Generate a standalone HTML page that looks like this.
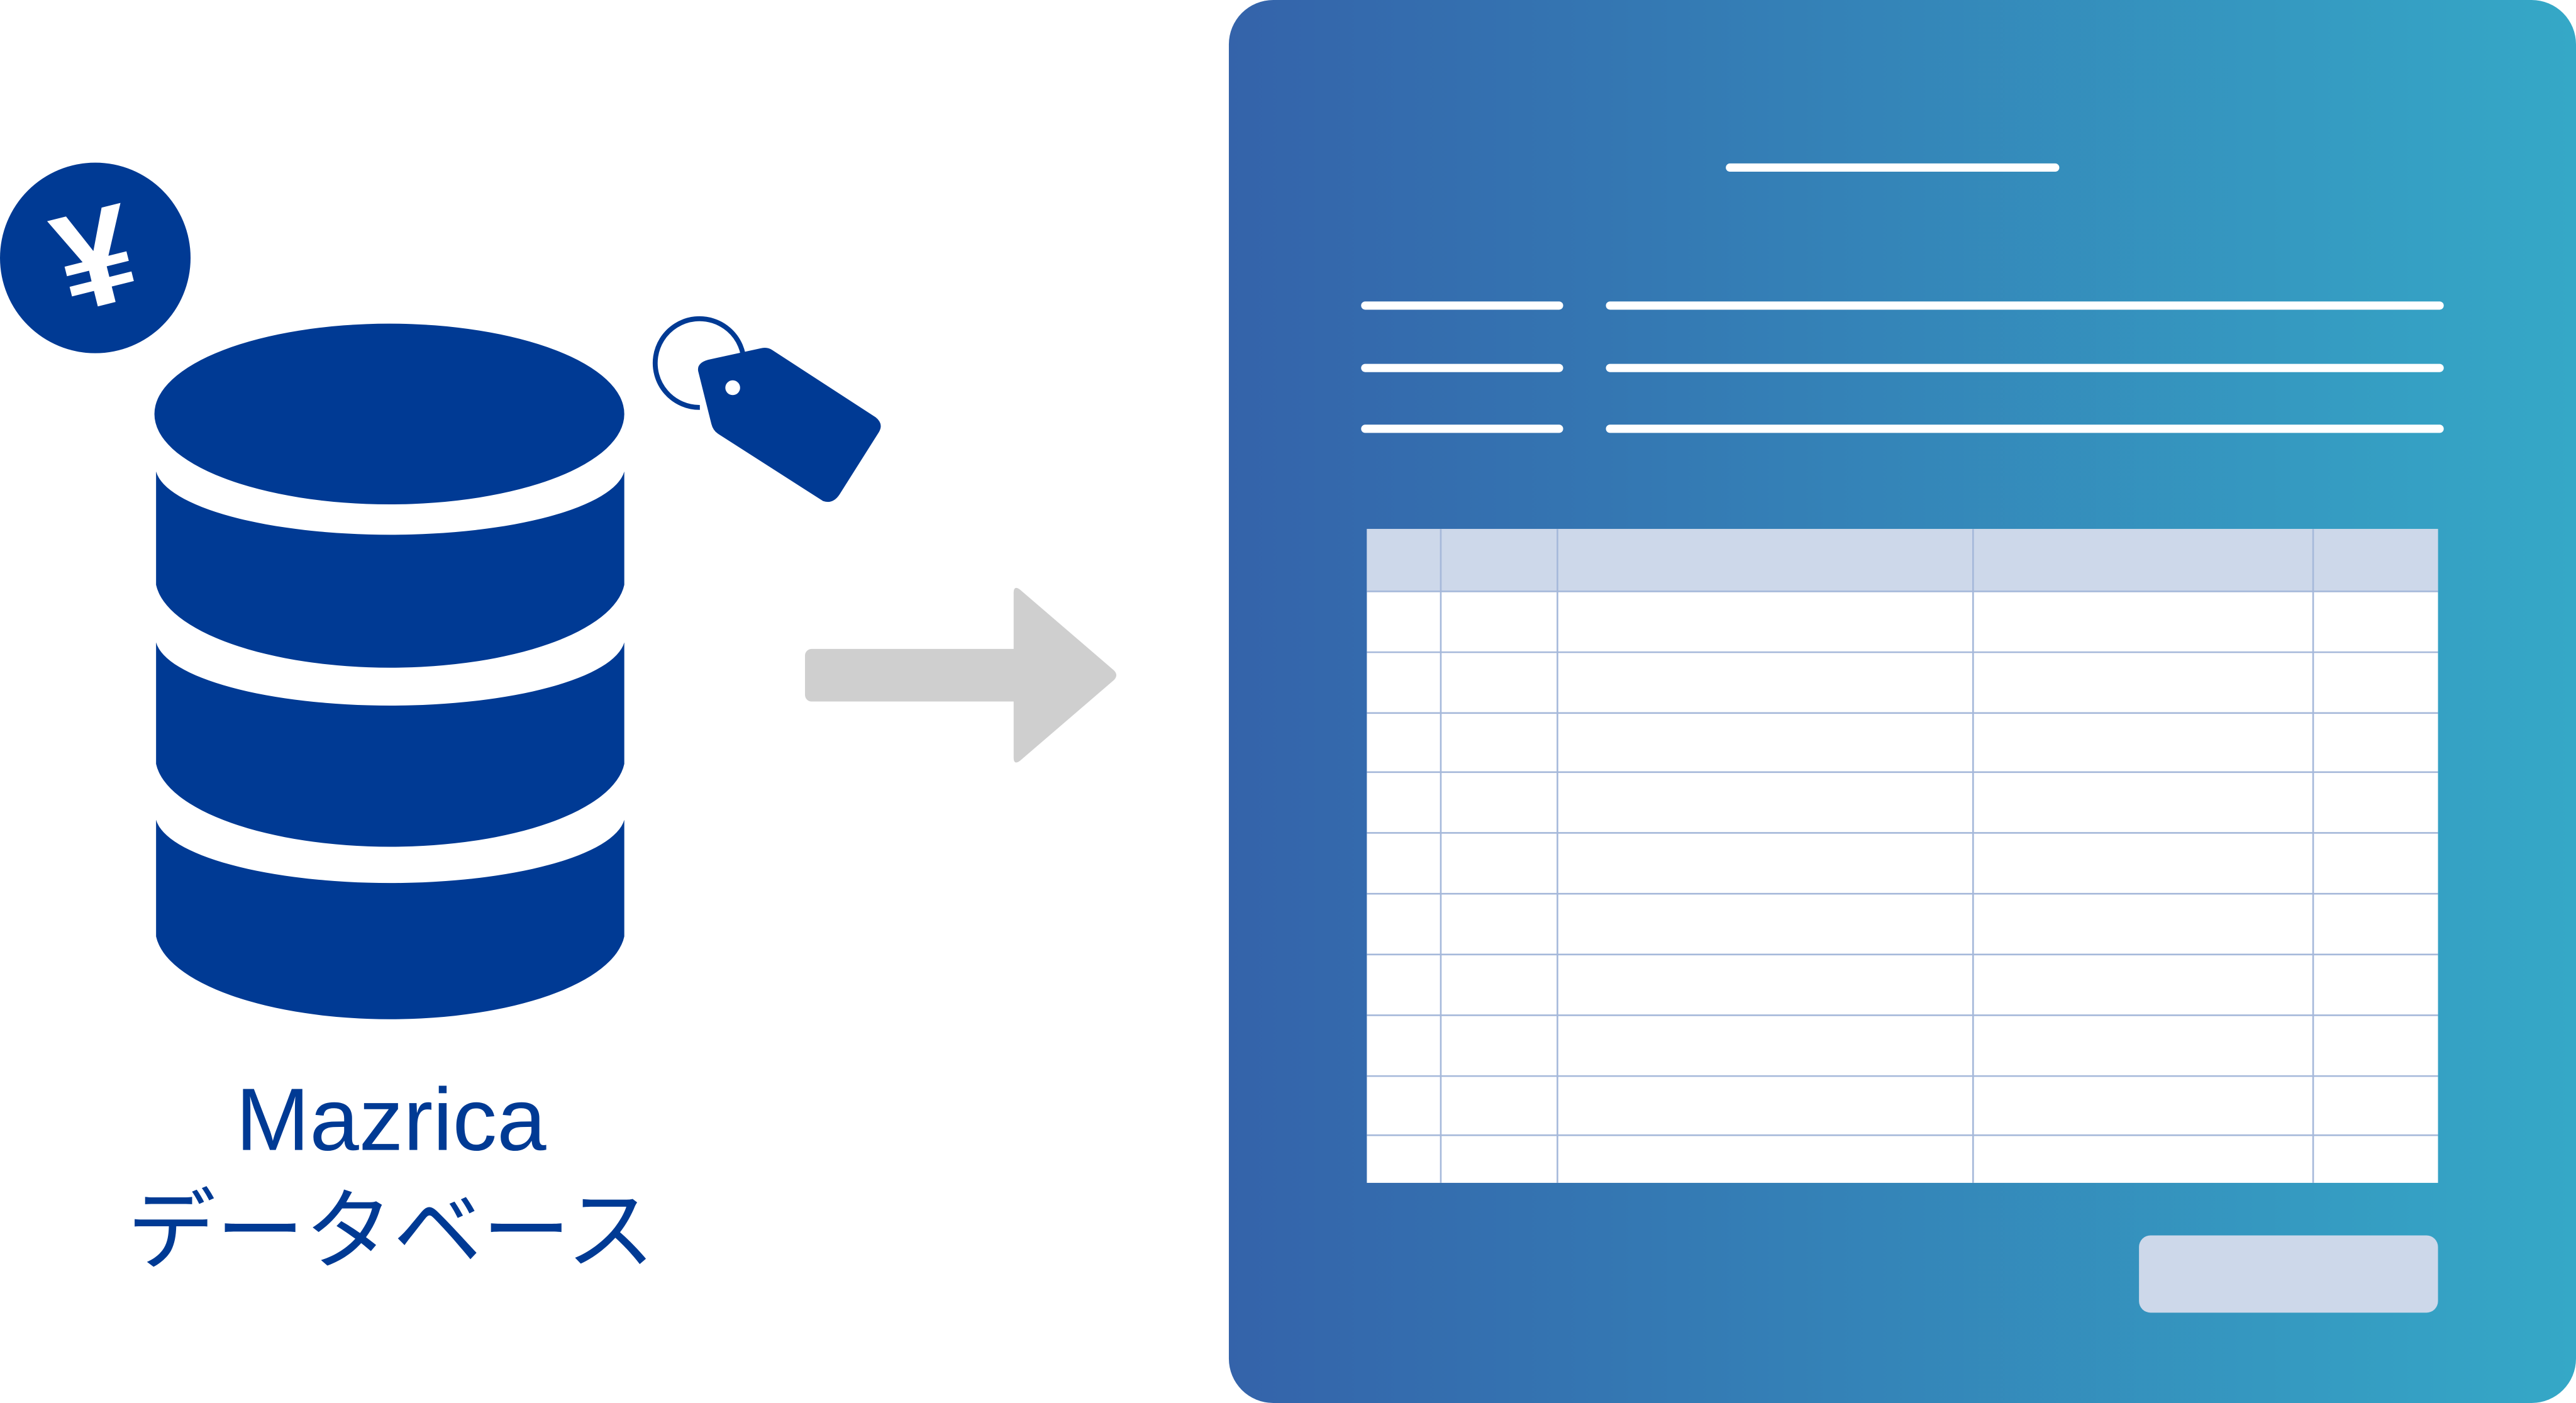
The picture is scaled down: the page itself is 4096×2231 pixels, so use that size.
<!DOCTYPE html>
<html><head><meta charset="utf-8"><style>
html,body{margin:0;padding:0;background:#fff;}
svg{display:block;}
</style></head><body>
<svg width="4096" height="2231" viewBox="0 0 1568 854" preserveAspectRatio="none" xmlns="http://www.w3.org/2000/svg">
<defs>
<linearGradient id="g" x1="0" y1="0" x2="1" y2="0">
<stop offset="0" stop-color="#3463aa"/><stop offset="1" stop-color="#35a8c7"/>
</linearGradient>
</defs>
<!-- coin -->
<circle cx="58" cy="157" r="58" fill="#003a94"/>
<text x="58" y="186" font-family="Liberation Sans, sans-serif" font-weight="bold" font-size="84" fill="#fff" text-anchor="middle" transform="rotate(-14 58 157)">¥</text>
<!-- database -->
<g fill="#003a94">
<ellipse cx="237" cy="252" rx="143" ry="55"/>
<path d="M95,287 A143,42 0 0 0 380,287 L380,356 A143,55 0 0 1 95,356 Z"/>
<path d="M95,391 A143,42 0 0 0 380,391 L380,465 A143,55 0 0 1 95,465 Z"/>
<path d="M95,499 A143,42 0 0 0 380,499 L380,570 A143,55 0 0 1 95,570 Z"/>
</g>
<!-- tag -->
<path d="M431,219 L463,212 Q467,211 470,213 L533,254 Q538,258 535,263 L511,301 Q507,307 501,305 L437,264 Q434,262 433,258 L425,226 Q424,221 431,219 Z" fill="#003a94"/>
<circle cx="446" cy="236" r="4.5" fill="#fff"/>
<path d="M426,248 A27,27 0 1 1 450,233" fill="none" stroke="#003a94" stroke-width="3"/>
<!-- text -->
<text x="238" y="700" font-family="Liberation Sans, 'Noto Sans CJK JP', sans-serif" font-size="54" fill="#003a94" text-anchor="middle">Mazrica</text>
<text x="238" y="768" font-family="'Noto Sans CJK JP', sans-serif" font-size="54" fill="#003a94" text-anchor="middle">データベース</text>
<!-- arrow -->
<rect x="490" y="395" width="140" height="32" rx="4" fill="#cfcfcf"/>
<path d="M617,361 Q617,356 621,359 L678,408 Q681,411 678,414 L621,463 Q617,466 617,461 Z" fill="#cfcfcf"/>
<!-- panel -->
<rect x="748" y="0" width="820" height="854" rx="27" fill="url(#g)"/>
<g stroke="#fff" stroke-width="5" stroke-linecap="round">
<line x1="1053" y1="102" x2="1251" y2="102"/>
<line x1="831" y1="186" x2="949" y2="186"/>
<line x1="831" y1="224" x2="949" y2="224"/>
<line x1="831" y1="261" x2="949" y2="261"/>
<line x1="980" y1="186" x2="1485" y2="186"/>
<line x1="980" y1="224" x2="1485" y2="224"/>
<line x1="980" y1="261" x2="1485" y2="261"/>
</g>
<rect x="832" y="322" width="652" height="398" fill="#fff"/>
<rect x="832" y="322" width="652" height="38" fill="#cdd8ea"/>
<g stroke="#a5b8da" stroke-width="1">
<line x1="832" y1="360" x2="1484" y2="360"/>
<line x1="832" y1="397" x2="1484" y2="397"/>
<line x1="832" y1="434" x2="1484" y2="434"/>
<line x1="832" y1="470" x2="1484" y2="470"/>
<line x1="832" y1="507" x2="1484" y2="507"/>
<line x1="832" y1="544" x2="1484" y2="544"/>
<line x1="832" y1="581" x2="1484" y2="581"/>
<line x1="832" y1="618" x2="1484" y2="618"/>
<line x1="832" y1="655" x2="1484" y2="655"/>
<line x1="832" y1="691" x2="1484" y2="691"/>
<line x1="877" y1="322" x2="877" y2="720"/>
<line x1="948" y1="322" x2="948" y2="720"/>
<line x1="1201" y1="322" x2="1201" y2="720"/>
<line x1="1408" y1="322" x2="1408" y2="720"/>
</g>
<rect x="1302" y="752" width="182" height="47" rx="7" fill="#cdd8ea"/>
</svg>
</body></html>
